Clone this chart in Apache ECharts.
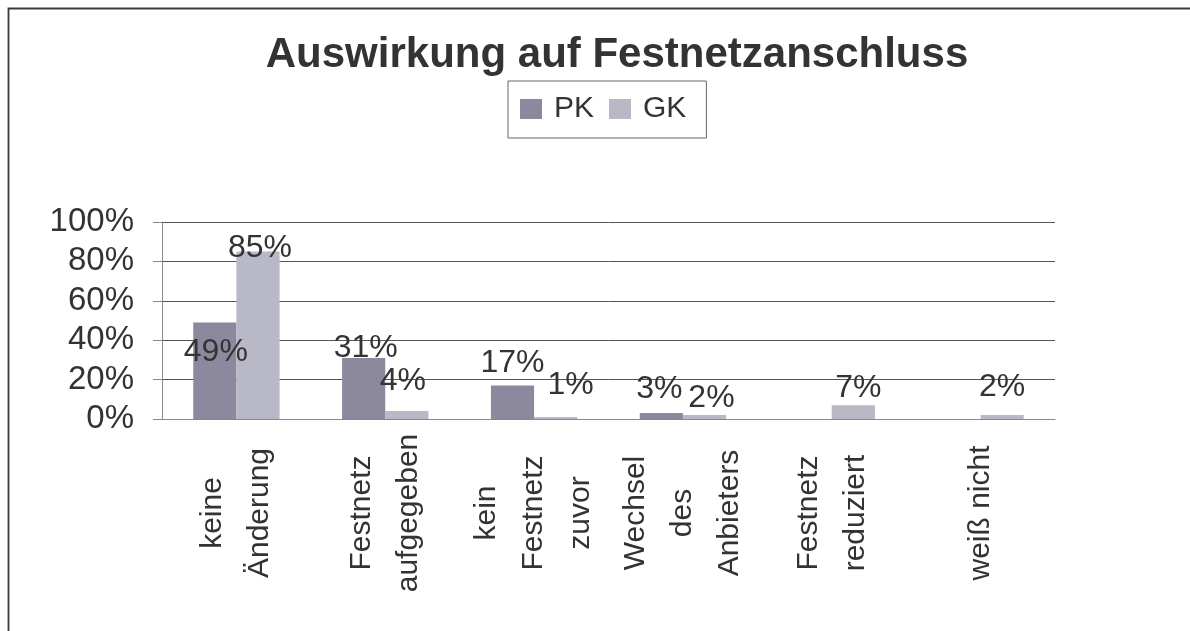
<!DOCTYPE html>
<html>
<head>
<meta charset="utf-8">
<script src="https://cdn.jsdelivr.net/npm/echarts@6/dist/echarts.min.js"></script>
<style>
  html, body { margin: 0; padding: 0; background: #fff; }
  #chart { width: 1190px; height: 631px; }
</style>
</head>
<body>
<div id="chart"></div>
<script>
// Kategorien (x-Achse)
var categories = ['keine\nÄnderung', 'Festnetz\naufgegeben', 'kein\nFestnetz\nzuvor', 'Wechsel\ndes\nAnbieters', 'Festnetz\nreduziert', 'weiß nicht']
// Werte in Prozent
var pkValues = [49, 31, 17, 3, 0, 0]
var gkValues = [85, 4, 1, 2, 7, 2]
// Achsenbeschriftung
var yTicks = [0, 20, 40, 60, 80, 100]

// Lage der Datenbeschriftungen (wie im Original leicht versetzt)
var pkLabelOffset = [[1, 30], [2, -10], [0, -22], [-2, -24], [0, 0], [0, 0]]
var gkLabelOffset = [[2, -3], [-4, -30], [15, -32], [7, -17], [5, -17], [0, -28]]

var font = "'Liberation Sans', Arial, sans-serif"

function buildData (values, offsets) {
  return values.map(function (v, i) {
    return {
      value: v,
      label: { show: v > 0, offset: offsets[i] }
    }
  })
}

var chart = echarts.init(document.getElementById('chart'))
chart.setOption({
  animation: false,
  backgroundColor: '#fff',
  textStyle: { fontFamily: font },
  graphic: [
    {
      type: 'rect',
      shape: { x: 8.5, y: 8.5, width: 1300, height: 700 },
      style: { fill: 'none', stroke: '#3a3a3a', lineWidth: 1.8 },
      silent: true
    }
  ],
  title: {
    text: 'Auswirkung auf Festnetzanschluss',
    left: 612,
    textAlign: 'center',
    top: 29,
    textStyle: { fontFamily: font, fontSize: 42, fontWeight: 'bold', color: '#333' }
  },
  legend: {
    left: 508,
    top: 81,
    padding: [13, 20, 14, 12],
    borderColor: '#666',
    borderWidth: 1,
    itemWidth: 22,
    itemHeight: 20,
    itemGap: 15,
    icon: 'rect',
    textStyle: { fontFamily: font, fontSize: 30, color: '#333', lineHeight: 30, padding: [0, 0, 0, 7] },
    data: ['PK', 'GK']
  },
  grid: {
    left: 162,
    right: 135,
    top: 222,
    bottom: 212,
    containLabel: false
  },
  xAxis: {
    type: 'category',
    data: categories,
    axisLine: { lineStyle: { color: '#888', width: 1 } },
    axisTick: { length: 9, lineStyle: { color: '#888' } },
    axisLabel: {
      interval: 0,
      rotate: 90,
      align: 'center',
      verticalAlign: 'middle',
      margin: 94,
      fontFamily: font,
      fontSize: 30,
      lineHeight: 47,
      color: '#333'
    }
  },
  yAxis: {
    type: 'value',
    min: yTicks[0],
    max: yTicks[yTicks.length - 1],
    interval: yTicks[1] - yTicks[0],
    axisLine: { show: true, lineStyle: { color: '#888', width: 1 } },
    axisTick: { show: true, length: 9, lineStyle: { color: '#888' } },
    axisLabel: {
      formatter: '{value}%',
      margin: 28,
      fontFamily: font,
      fontSize: 33,
      color: '#333'
    },
    splitLine: { lineStyle: { color: '#555', width: 1 } }
  },
  series: [
    {
      name: 'PK',
      type: 'bar',
      barGap: '0%',
      barCategoryGap: '42%',
      itemStyle: { color: '#8c889e' },
      label: {
        show: true,
        position: 'top',
        distance: 0,
        verticalAlign: 'middle',
        formatter: '{c}%',
        fontFamily: font,
        fontSize: 32,
        color: '#333'
      },
      data: buildData(pkValues, pkLabelOffset)
    },
    {
      name: 'GK',
      type: 'bar',
      barGap: '0%',
      barCategoryGap: '42%',
      itemStyle: { color: '#b9b8c7' },
      label: {
        show: true,
        position: 'top',
        distance: 0,
        verticalAlign: 'middle',
        formatter: '{c}%',
        fontFamily: font,
        fontSize: 32,
        color: '#333'
      },
      data: buildData(gkValues, gkLabelOffset)
    }
  ]
})
</script>
</body>
</html>
